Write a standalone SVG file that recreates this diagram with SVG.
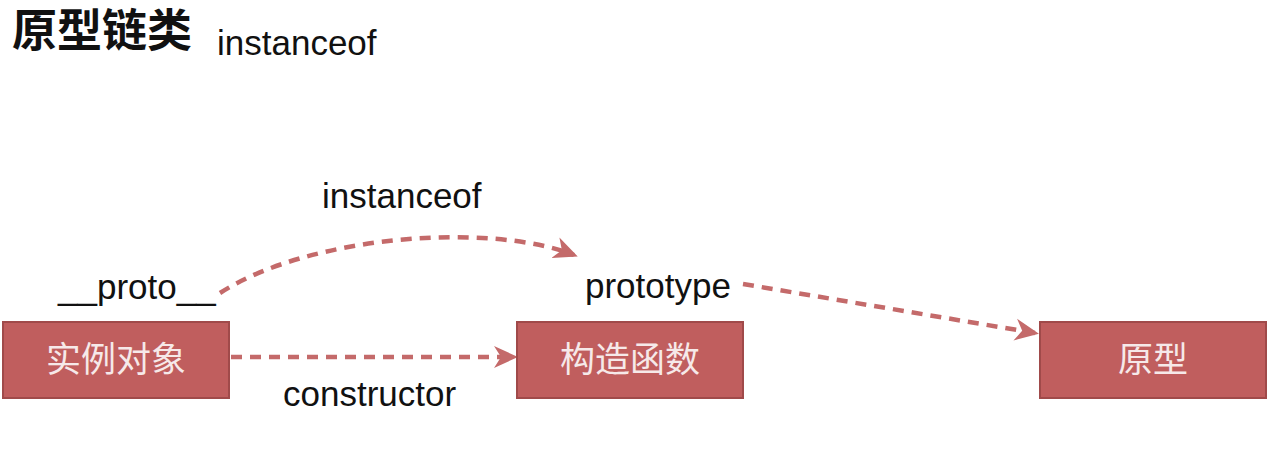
<svg xmlns="http://www.w3.org/2000/svg" width="1276" height="450" viewBox="0 0 1276 450">
<style>
.bg{fill:#ffffff}
.title{font-family:"Liberation Sans","Noto Sans CJK SC",sans-serif;font-size:45px;font-weight:700;fill:#111}
.lbl{font-family:"Liberation Sans","Noto Sans CJK SC",sans-serif;font-size:35px;fill:#111}
.box{fill:#c05e5e;stroke:#a04a4a;stroke-width:2}
.boxt{font-family:"Liberation Sans","Noto Sans CJK SC",sans-serif;font-size:35px;fill:#f6e9e9;text-anchor:middle}
.edge{fill:none;stroke:#c46a6a;stroke-width:4.5;stroke-dasharray:11 8}
</style>
<defs>
<marker id="ah" markerUnits="userSpaceOnUse" markerWidth="26" markerHeight="24" viewBox="0 0 26 24" refX="20" refY="12" orient="auto">
<path d="M0,1 L24,12 L0,23 L7,12 z" fill="#c46a6a"/>
</marker>
</defs>
<rect class="bg" x="0" y="0" width="1276" height="450"/>
<text class="title" x="12" y="47">原型链类</text>
<text class="lbl" x="217" y="55">instanceof</text>
<g id="connectors">
<path class="edge" d="M231,357 L514,357" marker-end="url(#ah)"/>
<path class="edge" d="M220,293 C310,235 490,222 574,255" marker-end="url(#ah)"/>
<path class="edge" d="M743,284 L1035,333" marker-end="url(#ah)"/>
<text class="lbl" x="322" y="208">instanceof</text>
<text class="lbl" x="58" y="299">__proto__</text>
<text class="lbl" x="585" y="298">prototype</text>
<text class="lbl" x="283" y="406">constructor</text>
</g>
<g id="node-instance">
<rect class="box" x="3" y="322" width="226" height="76"/>
<text class="boxt" x="116" y="372">实例对象</text>
</g>
<g id="node-constructor">
<rect class="box" x="517" y="322" width="226" height="76"/>
<text class="boxt" x="630" y="372">构造函数</text>
</g>
<g id="node-prototype">
<rect class="box" x="1040" y="322" width="226" height="76"/>
<text class="boxt" x="1153" y="372">原型</text>
</g>
</svg>
